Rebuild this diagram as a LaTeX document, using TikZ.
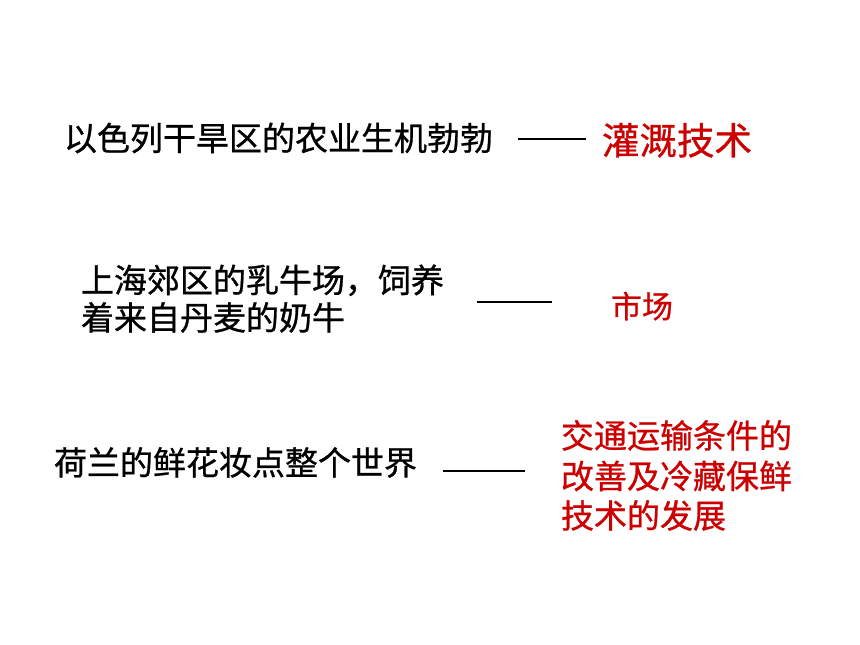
\documentclass[tikz,border=0pt]{standalone}
\usepackage{fontspec}
\setmainfont{Noto Sans CJK SC}[FakeBold=0.8]
\definecolor{ansred}{RGB}{204,0,0}
\begin{document}
\begin{tikzpicture}[x=1pt,y=-1pt,
  txt/.style={anchor=base west,inner sep=0pt,outer sep=0pt,text=black},
  ans/.style={anchor=base west,inner sep=0pt,outer sep=0pt,text=ansred},
  dashline/.style={line width=2.8pt,black}]
\useasboundingbox[fill=white] (0,0) rectangle (860,645);
% row 1
\node[txt,font=\fontsize{33}{37.5}\selectfont] (q1) at (64,150.5) {以色列干旱区的农业生机勃勃};
\coordinate (l1a) at (518,139);
\coordinate (l1b) at (586,139);
\draw[dashline] (l1a) -- (l1b);
\node[ans,font=\fontsize{37.5}{40}\selectfont] (r1) at (602,154.5) {灌溉技术};
% row 2
\node[txt,font=\fontsize{33}{37.5}\selectfont] (q2a) at (81,292.5) {上海郊区的乳牛场，饲养};
\node[txt,font=\fontsize{33}{37.5}\selectfont] (q2b) at (81,330) {着来自丹麦的奶牛};
\coordinate (l2a) at (477,302);
\coordinate (l2b) at (552,302);
\draw[dashline] (l2a) -- (l2b);
\node[ans,font=\fontsize{31}{36}\selectfont] (r2) at (611,318) {市场};
% row 3
\node[txt,font=\fontsize{33}{37.5}\selectfont] (q3) at (54,475) {荷兰的鲜花妆点整个世界};
\coordinate (l3a) at (443,471);
\coordinate (l3b) at (525,471);
\draw[dashline] (l3a) -- (l3b);
\node[ans,font=\fontsize{33}{40}\selectfont] (r3a) at (561,448) {交通运输条件的};
\node[ans,font=\fontsize{33}{40}\selectfont] (r3b) at (561,488.5) {改善及冷藏保鲜};
\node[ans,font=\fontsize{33}{40}\selectfont] (r3c) at (561,528) {技术的发展};
\end{tikzpicture}
\end{document}
